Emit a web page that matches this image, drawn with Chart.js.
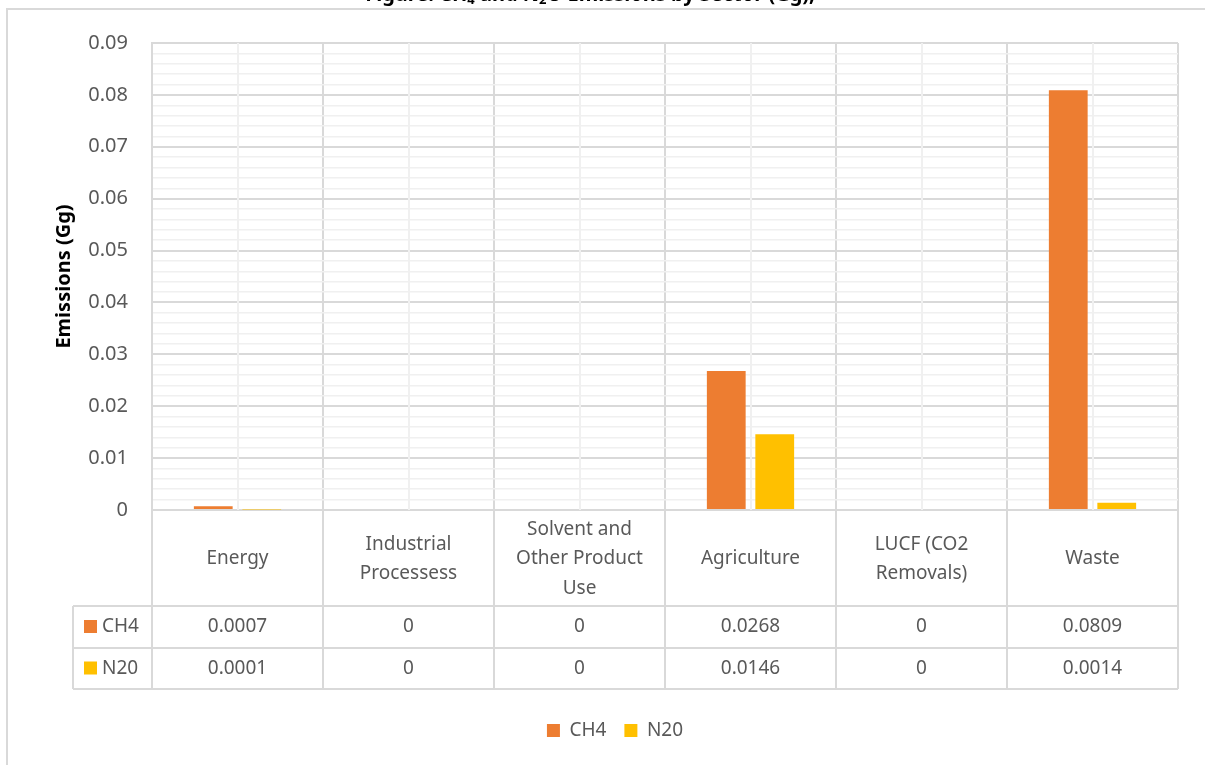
<!DOCTYPE html>
<html>
<head>
<meta charset="utf-8">
<script src="https://cdn.jsdelivr.net/npm/chart.js@4.4.1/dist/chart.umd.min.js"></script>
<style>
  body { margin: 0; background: #fff; }
  #wrap { position: relative; width: 1205px; height: 765px; }
  #wrap canvas { position: absolute; left: 0; top: 0; }
  #frame { position: absolute; left: 6px; top: 8px; right: 0; bottom: 0; border-left: 2px solid #d9d9d9; border-top: 2px solid #d9d9d9; pointer-events: none; }
</style>
</head>
<body>
<div id="wrap">
  <canvas id="chart" width="1205" height="765"></canvas>
  <div id="frame"></div>
</div>
<script>
// sectors, one entry per category (lines as shown in the table header row)
var sectors = [
  ['Energy'],
  ['Industrial', 'Processess'],
  ['Solvent and', 'Other Product', 'Use'],
  ['Agriculture'],
  ['LUCF (CO2', 'Removals)'],
  ['Waste']
];
var ch4Values = [0.0007, 0, 0, 0.0268, 0, 0.0809];
var n2oValues = [0.0001, 0, 0, 0.0146, 0, 0.0014];
var seriesNames = ['CH4', 'N20'];
var seriesColors = ['#ED7D31', '#FFC000'];
var yMax = 0.09;
var yStep = 0.002;      // minor gridlines
var yLabelEvery = 5;    // label every 0.01

var textGrey = '#595959';
var lineGrey = '#d9d9d9';
var fontFamily = '"Noto Sans", "Open Sans", sans-serif';

function isMajor(v) {
  return Math.round(v / yStep) % yLabelEvery === 0;
}

// light gridline through the middle of each category
var centerLines = {
  id: 'centerLines',
  beforeDatasetsDraw: function(chart) {
    var ctx = chart.ctx, xs = chart.scales.x, ca = chart.chartArea;
    ctx.save();
    ctx.strokeStyle = '#f0f0f0';
    ctx.lineWidth = 2;
    for (var i = 0; i < sectors.length; i++) {
      var x = Math.round(xs.getPixelForValue(i));
      ctx.beginPath();
      ctx.moveTo(x, ca.top);
      ctx.lineTo(x, ca.bottom);
      ctx.stroke();
    }
    ctx.restore();
  }
};

// data table under the plot, plus the clipped heading above the frame
var dataTable = {
  id: 'dataTable',
  afterDraw: function(chart) {
    var ctx = chart.ctx, xs = chart.scales.x, ca = chart.chartArea;
    var n = sectors.length;
    var cw = (xs.right - xs.left) / n;
    var headBottom = ca.bottom + 96;
    var row1 = headBottom + 42;
    var row2 = row1 + 41;
    var keyLeft = 73;
    var rows = [ch4Values, n2oValues];
    var rowMid = [headBottom + 21, row1 + 20.5];

    ctx.save();
    ctx.strokeStyle = lineGrey;
    ctx.lineWidth = 2;
    ctx.beginPath();
    [headBottom, row1, row2].forEach(function(y) {
      ctx.moveTo(keyLeft, y);
      ctx.lineTo(xs.right, y);
    });
    for (var i = 0; i <= n; i++) {
      var bx = Math.round(xs.left + i * cw);
      ctx.moveTo(bx, ca.bottom);
      ctx.lineTo(bx, row2);
    }
    ctx.moveTo(keyLeft, headBottom);
    ctx.lineTo(keyLeft, row2);
    ctx.stroke();

    ctx.fillStyle = textGrey;
    ctx.font = '19px ' + fontFamily;
    ctx.textAlign = 'center';
    ctx.textBaseline = 'middle';
    var headMid = ca.bottom + 49;
    var lh = 29.5;
    for (var c = 0; c < n; c++) {
      var cx = xs.getPixelForValue(c);
      var lines = sectors[c];
      var y0 = headMid - (lines.length - 1) * lh / 2;
      lines.forEach(function(t, k) { ctx.fillText(t, cx, y0 + k * lh); });
      rows.forEach(function(vals, r) { ctx.fillText(String(vals[c]), cx, rowMid[r]); });
    }

    ctx.textAlign = 'left';
    rows.forEach(function(vals, r) {
      ctx.fillStyle = seriesColors[r];
      ctx.fillRect(84, rowMid[r] - 7, 13, 13);
      ctx.fillStyle = textGrey;
      ctx.fillText(seriesNames[r], 102, rowMid[r]);
    });

    // heading, almost entirely above the top edge
    var parts = [['Figure: CH', 0], ['4', 1], [' and N', 0], ['2', 1], ['O Emissions by Sector (Gg),', 0]];
    var widths = parts.map(function(p) {
      ctx.font = (p[1] ? 'bold 13px ' : 'bold 20px ') + fontFamily;
      return ctx.measureText(p[0]).width;
    });
    var total = widths.reduce(function(a, b) { return a + b; }, 0);
    var x = 590 - total / 2;
    ctx.fillStyle = '#000';
    ctx.textBaseline = 'alphabetic';
    parts.forEach(function(p, k) {
      ctx.font = (p[1] ? 'bold 13px ' : 'bold 20px ') + fontFamily;
      ctx.fillText(p[0], x, p[1] ? 4 : 1);
      x += widths[k];
    });
    ctx.restore();
  }
};

new Chart(document.getElementById('chart'), {
  type: 'bar',
  data: {
    labels: sectors,
    datasets: [
      { label: seriesNames[0], data: ch4Values, backgroundColor: seriesColors[0] },
      { label: seriesNames[1], data: n2oValues, backgroundColor: seriesColors[1] }
    ]
  },
  options: {
    responsive: false,
    animation: false,
    devicePixelRatio: 1,
    categoryPercentage: 0.567,
    barPercentage: 0.8,
    layout: { padding: { top: 43, right: 27, bottom: 15, left: 52 } },
    plugins: {
      tooltip: { enabled: false },
      legend: {
        position: 'bottom',
        labels: {
          boxWidth: 13,
          boxHeight: 13,
          padding: 18,
          color: textGrey,
          font: { family: fontFamily, size: 19 }
        }
      }
    },
    scales: {
      x: {
        offset: true,
        ticks: { display: false },
        grid: { color: lineGrey, lineWidth: 2, drawTicks: false, offset: true },
        border: { color: lineGrey, width: 2 },
        afterFit: function(s) { s.height = 193; }
      },
      y: {
        min: 0,
        max: yMax,
        afterFit: function(s) { s.width = 100; },
        ticks: {
          stepSize: yStep,
          autoSkip: false,
          padding: 24,
          color: textGrey,
          font: { family: fontFamily, size: 20 },
          callback: function(v) {
            if (!isMajor(v)) return '';
            return v === 0 ? '0' : v.toFixed(2);
          }
        },
        grid: {
          drawTicks: false,
          color: function(c) { return isMajor(c.tick.value) ? lineGrey : '#f0f0f0'; },
          lineWidth: function(c) { return isMajor(c.tick.value) ? 2 : 1.5; }
        },
        border: { color: lineGrey, width: 2 },
        title: {
          display: true,
          text: 'Emissions (Gg)',
          color: '#000',
          padding: { top: 0 },
          font: { family: fontFamily, size: 20, weight: 'bold' }
        }
      }
    }
  },
  plugins: [centerLines, dataTable]
});
</script>
</body>
</html>
